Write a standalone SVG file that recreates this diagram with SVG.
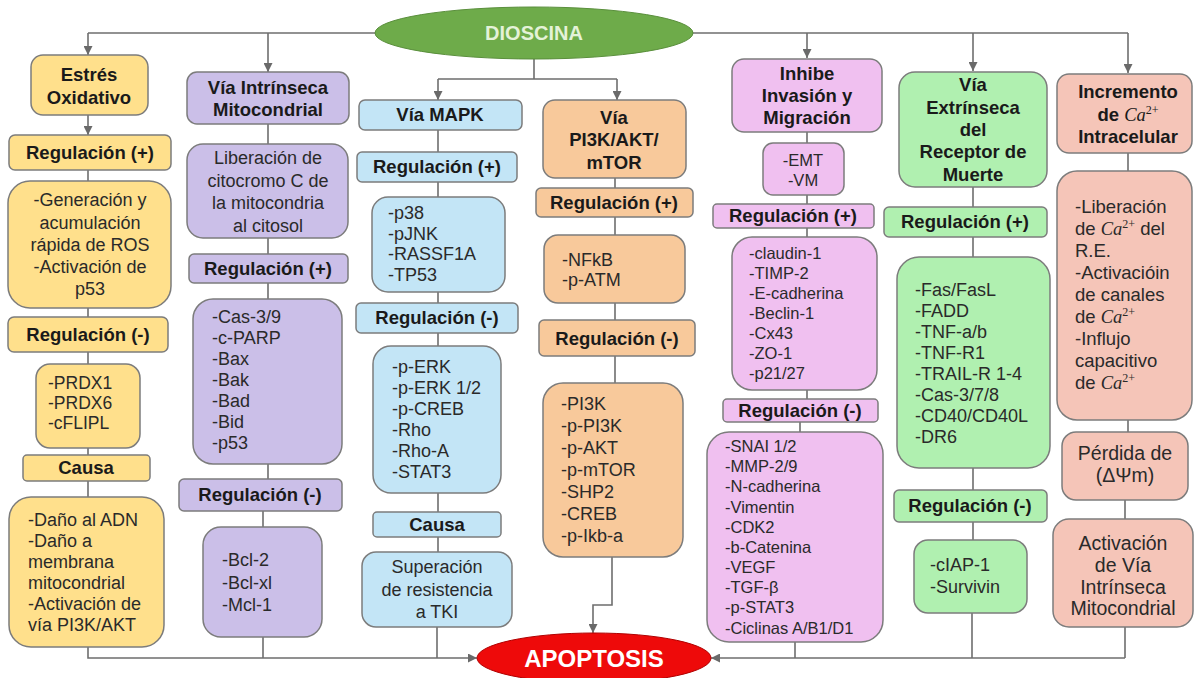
<svg xmlns="http://www.w3.org/2000/svg" width="1195" height="678" viewBox="0 0 1195 678">
<defs>
<marker id="ah" viewBox="0 0 10 10" refX="10" refY="5" markerWidth="9" markerHeight="9" markerUnits="userSpaceOnUse" orient="auto"><path d="M0,0 L10,5 L0,10 z" fill="#6a6a6a"/></marker>
<style>
.ln{stroke:#6e6e6e;stroke-width:1.6;fill:none}
rect{stroke:#7c7c7c;stroke-width:1.5}
.y{fill:#ffe08c}.p{fill:#cbbfe8}.b{fill:#c3e5f6}.o{fill:#f8c99b}.k{fill:#f0c0f0}.g{fill:#b0f0b0}.s{fill:#f5c5b8}
.h{font-family:'Liberation Sans',Arial,sans-serif;font-weight:bold;font-size:18.5px;fill:#1a1a1a;text-anchor:middle}
.t{font-family:'Liberation Sans',Arial,sans-serif;font-size:18px;fill:#2a2a2a}
.m{text-anchor:middle}
.sm{font-size:16.5px}
.lg{font-size:19.5px}
.ca{font-family:'Liberation Serif','Times New Roman',serif;font-style:italic;font-weight:normal}
.sup{font-family:'Liberation Serif','Times New Roman',serif;font-style:normal;font-weight:normal;font-size:12px}
</style>
</defs>
<g id="connectors">
<path class="ln" d="M88,33 H1128"/>
<path class="ln" d="M88,33 V55" marker-end="url(#ah)"/>
<path class="ln" d="M268,33 V72" marker-end="url(#ah)"/>
<path class="ln" d="M807,33 V58" marker-end="url(#ah)"/>
<path class="ln" d="M973,33 V71" marker-end="url(#ah)"/>
<path class="ln" d="M1128,33 V73" marker-end="url(#ah)"/>
<path class="ln" d="M534,58 V79 M438,79 H617"/>
<path class="ln" d="M438,79 V100" marker-end="url(#ah)"/>
<path class="ln" d="M617,79 V100" marker-end="url(#ah)"/>
<path class="ln" d="M88,115 V135" marker-end="url(#ah)"/>
<path class="ln" d="M88,170 V181 M88,308 V317 M88,352 V364 M88,448 V455 M88,481 V497"/>
<path class="ln" d="M88,647 V658 H477" marker-end="url(#ah)"/>
<path class="ln" d="M268,124 V144 M268,238 V254 M268,283 V299 M268,464 V479 M263,511 V527 M263,637 V658"/>
<path class="ln" d="M438,130 V152 M438,182 V197 M438,292 V303 M438,333 V346 M438,493 V512 M438,537 V552 M437,627 V658"/>
<path class="ln" d="M615,178 V188 M615,217 V235 M615,303 V320 M615,356 V383"/>
<path class="ln" d="M612,557 V605 H593 V633" marker-end="url(#ah)"/>
<path class="ln" d="M807,132 V143 M807,195 V204 M807,228 V237 M807,390 V399 M800,422 V432 M795,642 V658"/>
<path class="ln" d="M1125,658 H711" marker-end="url(#ah)"/>
<path class="ln" d="M973,187 V207 M973,237 V257 M973,468 V490 M973,522 V540 M972,613 V658"/>
<path class="ln" d="M1128,153 V171 M1128,420 V432 M1125,500 V519 M1125,627 V658"/>
</g>
<g id="dioscina"><ellipse cx="534" cy="33" rx="159" ry="26" fill="#6eab4a" stroke="#5a8f3c" stroke-width="1"/><text x="534" y="40" class="h" style="font-size:20px;fill:#e4f2d8">DIOSCINA</text></g>
<g id="apoptosis"><ellipse cx="594" cy="658" rx="117" ry="25" fill="#ee0a0a" stroke="#b00000" stroke-width="1"/><text x="594" y="667" class="h" style="font-size:24px;fill:#ffffff">APOPTOSIS</text></g>

<g id="estres"><rect class="y" x="31" y="55" width="117" height="60" rx="12"/><text class="h"><tspan x="89" y="81">Estrés</tspan><tspan x="89" y="104">Oxidativo</tspan></text></g>
<g id="estres-reg-pos"><rect class="y" x="9" y="135" width="162" height="35" rx="6"/><text class="h" x="90" y="159">Regulación (+)</text></g>
<g id="estres-ros"><rect class="y" x="8" y="181" width="163" height="127" rx="22"/><text class="t m"><tspan x="90" y="206">-Generación y</tspan><tspan x="90" y="229">acumulación</tspan><tspan x="90" y="251">rápida de ROS</tspan><tspan x="90" y="273">-Activación de</tspan><tspan x="90" y="295">p53</tspan></text></g>
<g id="estres-reg-neg"><rect class="y" x="8" y="317" width="160" height="35" rx="6"/><text class="h" x="88" y="341">Regulación (-)</text></g>
<g id="estres-prdx"><rect class="y" x="36" y="364" width="104" height="84" rx="14"/><text class="t" style="font-size:17.5px"><tspan x="48" y="389">-PRDX1</tspan><tspan x="48" y="409">-PRDX6</tspan><tspan x="48" y="429">-cFLIPL</tspan></text></g>
<g id="estres-causa"><rect class="y" x="23" y="455" width="127" height="26" rx="4"/><text class="h" x="86" y="474">Causa</text></g>
<g id="estres-dano"><rect class="y" x="9" y="497" width="155" height="150" rx="22"/><text class="t"><tspan x="28" y="526">-Daño al ADN</tspan><tspan x="28" y="547">-Daño a</tspan><tspan x="28" y="568">membrana</tspan><tspan x="28" y="589">mitocondrial</tspan><tspan x="28" y="610">-Activación de</tspan><tspan x="28" y="631">vía PI3K/AKT</tspan></text></g>

<g id="intrinseca"><rect class="p" x="187" y="72" width="162" height="52" rx="10"/><text class="h"><tspan x="268" y="94">Vía Intrínseca</tspan><tspan x="268" y="116">Mitocondrial</tspan></text></g>
<g id="intr-lib"><rect class="p" x="187" y="144" width="161" height="94" rx="16"/><text class="t m"><tspan x="268" y="164">Liberación de</tspan><tspan x="268" y="187">citocromo C de</tspan><tspan x="268" y="209">la mitocondria</tspan><tspan x="268" y="232">al citosol</tspan></text></g>
<g id="intr-reg-pos"><rect class="p" x="189" y="254" width="159" height="29" rx="5"/><text class="h" x="268" y="275">Regulación (+)</text></g>
<g id="intr-cas"><rect class="p" x="193" y="299" width="149" height="165" rx="20"/><text class="t"><tspan x="212" y="323">-Cas-3/9</tspan><tspan x="212" y="344">-c-PARP</tspan><tspan x="212" y="365">-Bax</tspan><tspan x="212" y="386">-Bak</tspan><tspan x="212" y="407">-Bad</tspan><tspan x="212" y="428">-Bid</tspan><tspan x="212" y="449">-p53</tspan></text></g>
<g id="intr-reg-neg"><rect class="p" x="179" y="479" width="163" height="32" rx="5"/><text class="h" x="260" y="501">Regulación (-)</text></g>
<g id="intr-bcl"><rect class="p" x="203" y="527" width="119" height="110" rx="18"/><text class="t"><tspan x="222" y="566">-Bcl-2</tspan><tspan x="222" y="589">-Bcl-xl</tspan><tspan x="222" y="611">-Mcl-1</tspan></text></g>

<g id="mapk"><rect class="b" x="359" y="100" width="163" height="30" rx="6"/><text class="h" x="440" y="121">Vía MAPK</text></g>
<g id="mapk-reg-pos"><rect class="b" x="357" y="152" width="160" height="30" rx="5"/><text class="h" x="437" y="173">Regulación (+)</text></g>
<g id="mapk-p38"><rect class="b" x="372" y="197" width="133" height="95" rx="16"/><text class="t"><tspan x="388" y="219">-p38</tspan><tspan x="388" y="240">-pJNK</tspan><tspan x="388" y="260">-RASSF1A</tspan><tspan x="388" y="281">-TP53</tspan></text></g>
<g id="mapk-reg-neg"><rect class="b" x="356" y="303" width="162" height="30" rx="5"/><text class="h" x="437" y="324">Regulación (-)</text></g>
<g id="mapk-erk"><rect class="b" x="373" y="346" width="128" height="147" rx="18"/><text class="t"><tspan x="392" y="373">-p-ERK</tspan><tspan x="392" y="394">-p-ERK 1/2</tspan><tspan x="392" y="415">-p-CREB</tspan><tspan x="392" y="436">-Rho</tspan><tspan x="392" y="457">-Rho-A</tspan><tspan x="392" y="478">-STAT3</tspan></text></g>
<g id="mapk-causa"><rect class="b" x="373" y="512" width="128" height="25" rx="4"/><text class="h" x="437" y="531">Causa</text></g>
<g id="mapk-tki"><rect class="b" x="362" y="552" width="150" height="75" rx="14"/><text class="t m"><tspan x="437" y="573">Superación</tspan><tspan x="437" y="596">de resistencia</tspan><tspan x="437" y="618">a TKI</tspan></text></g>

<g id="pi3k"><rect class="o" x="543" y="100" width="143" height="78" rx="12"/><text class="h"><tspan x="614" y="124">Vía</tspan><tspan x="614" y="146">PI3K/AKT/</tspan><tspan x="614" y="169">mTOR</tspan></text></g>
<g id="pi3k-reg-pos"><rect class="o" x="536" y="188" width="157" height="29" rx="5"/><text class="h" x="614" y="209">Regulación (+)</text></g>
<g id="pi3k-nfkb"><rect class="o" x="544" y="235" width="141" height="68" rx="14"/><text class="t"><tspan x="562" y="266">-NFkB</tspan><tspan x="562" y="286">-p-ATM</tspan></text></g>
<g id="pi3k-reg-neg"><rect class="o" x="539" y="320" width="156" height="36" rx="5"/><text class="h" x="617" y="345">Regulación (-)</text></g>
<g id="pi3k-list"><rect class="o" x="543" y="383" width="140" height="174" rx="20"/><text class="t"><tspan x="561" y="410">-PI3K</tspan><tspan x="561" y="432">-p-PI3K</tspan><tspan x="561" y="454">-p-AKT</tspan><tspan x="561" y="476">-p-mTOR</tspan><tspan x="561" y="498">-SHP2</tspan><tspan x="561" y="520">-CREB</tspan><tspan x="561" y="542">-p-Ikb-a</tspan></text></g>

<g id="inhibe"><rect class="k" x="732" y="59" width="150" height="73" rx="12"/><text class="h"><tspan x="807" y="80">Inhibe</tspan><tspan x="807" y="102">Invasión y</tspan><tspan x="807" y="124">Migración</tspan></text></g>
<g id="inh-emt"><rect class="k" x="763" y="143" width="81" height="52" rx="10"/><text class="t m sm"><tspan x="803" y="166">-EMT</tspan><tspan x="803" y="186">-VM</tspan></text></g>
<g id="inh-reg-pos"><rect class="k" x="713" y="204" width="161" height="24" rx="4"/><text class="h" x="793" y="222">Regulación (+)</text></g>
<g id="inh-claudin"><rect class="k" x="732" y="237" width="145" height="153" rx="20"/><text class="t sm"><tspan x="749" y="259">-claudin-1</tspan><tspan x="749" y="279">-TIMP-2</tspan><tspan x="749" y="299">-E-cadherina</tspan><tspan x="749" y="319">-Beclin-1</tspan><tspan x="749" y="339">-Cx43</tspan><tspan x="749" y="359">-ZO-1</tspan><tspan x="749" y="379">-p21/27</tspan></text></g>
<g id="inh-reg-neg"><rect class="k" x="723" y="399" width="155" height="23" rx="4"/><text class="h" x="800" y="417">Regulación (-)</text></g>
<g id="inh-snai"><rect class="k" x="707" y="432" width="176" height="210" rx="22"/><text class="t sm"><tspan x="725" y="452">-SNAI 1/2</tspan><tspan x="725" y="472">-MMP-2/9</tspan><tspan x="725" y="492">-N-cadherina</tspan><tspan x="725" y="513">-Vimentin</tspan><tspan x="725" y="533">-CDK2</tspan><tspan x="725" y="553">-b-Catenina</tspan><tspan x="725" y="573">-VEGF</tspan><tspan x="725" y="593">-TGF-β</tspan><tspan x="725" y="613">-p-STAT3</tspan><tspan x="725" y="634">-Ciclinas A/B1/D1</tspan></text></g>

<g id="extrinseca"><rect class="g" x="899" y="72" width="148" height="115" rx="16"/><text class="h"><tspan x="973" y="91">Vía</tspan><tspan x="973" y="114">Extrínseca</tspan><tspan x="973" y="136">del</tspan><tspan x="973" y="158">Receptor de</tspan><tspan x="973" y="181">Muerte</tspan></text></g>
<g id="ext-reg-pos"><rect class="g" x="884" y="207" width="163" height="30" rx="5"/><text class="h" x="965" y="228">Regulación (+)</text></g>
<g id="ext-fas"><rect class="g" x="897" y="257" width="153" height="211" rx="22"/><text class="t"><tspan x="915" y="296">-Fas/FasL</tspan><tspan x="915" y="317">-FADD</tspan><tspan x="915" y="338">-TNF-a/b</tspan><tspan x="915" y="359">-TNF-R1</tspan><tspan x="915" y="380">-TRAIL-R 1-4</tspan><tspan x="915" y="401">-Cas-3/7/8</tspan><tspan x="915" y="422">-CD40/CD40L</tspan><tspan x="915" y="443">-DR6</tspan></text></g>
<g id="ext-reg-neg"><rect class="g" x="894" y="490" width="153" height="32" rx="5"/><text class="h" x="970" y="512">Regulación (-)</text></g>
<g id="ext-ciap"><rect class="g" x="914" y="540" width="113" height="73" rx="14"/><text class="t"><tspan x="930" y="571">-cIAP-1</tspan><tspan x="930" y="593">-Survivin</tspan></text></g>

<g id="calcio"><rect class="s" x="1057" y="74" width="135" height="79" rx="12"/><text class="h"><tspan x="1128" y="98">Incremento</tspan></text><text class="h" x="1128" y="121">de <tspan class="ca">Ca</tspan><tspan class="sup" dy="-7">2+</tspan></text><text class="h" x="1128" y="143">Intracelular</text></g>
<g id="ca-lib"><rect class="s" x="1057" y="171" width="135" height="249" rx="20"/><text class="t" style="font-size:18.5px"><tspan x="1075" y="213">-Liberación</tspan></text><text class="t" style="font-size:18.5px" x="1075" y="235">de <tspan class="ca">Ca</tspan><tspan class="sup" dy="-7">2+</tspan><tspan dy="7"> del</tspan></text><text class="t" style="font-size:18.5px"><tspan x="1075" y="257">R.E.</tspan><tspan x="1075" y="279">-Activacióin</tspan><tspan x="1075" y="301">de canales</tspan></text><text class="t" style="font-size:18.5px" x="1075" y="323">de <tspan class="ca">Ca</tspan><tspan class="sup" dy="-7">2+</tspan></text><text class="t" style="font-size:18.5px"><tspan x="1075" y="345">-Influjo</tspan><tspan x="1075" y="367">capacitivo</tspan></text><text class="t" style="font-size:18.5px" x="1075" y="389">de <tspan class="ca">Ca</tspan><tspan class="sup" dy="-7">2+</tspan></text></g>
<g id="ca-perdida"><rect class="s" x="1062" y="432" width="126" height="68" rx="14"/><text class="t m lg"><tspan x="1125" y="460">Pérdida de</tspan><tspan x="1125" y="482">(ΔΨm)</tspan></text></g>
<g id="ca-activacion"><rect class="s" x="1053" y="519" width="140" height="108" rx="16"/><text class="t m lg"><tspan x="1123" y="550">Activación</tspan><tspan x="1123" y="572">de Vía</tspan><tspan x="1123" y="594">Intrínseca</tspan><tspan x="1123" y="615">Mitocondrial</tspan></text></g>
</svg>
